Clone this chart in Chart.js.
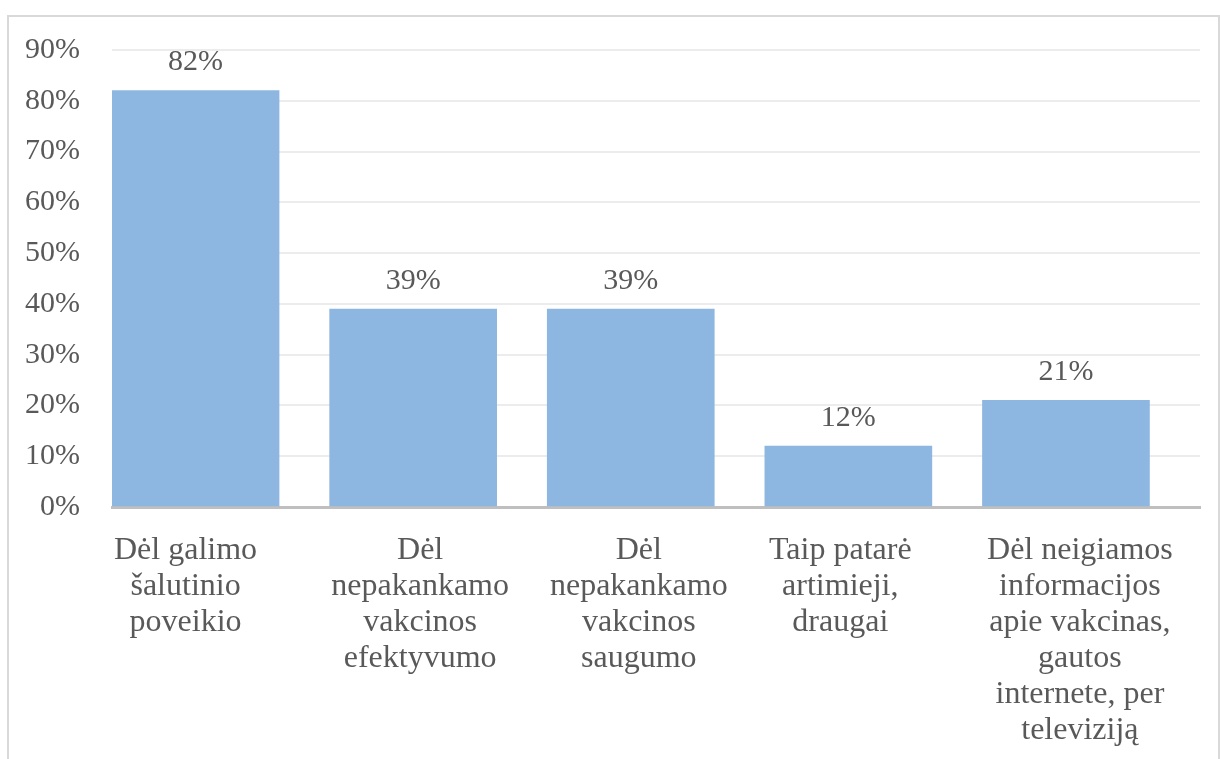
<!DOCTYPE html>
<html>
<head>
<meta charset="utf-8">
<script src="https://cdn.jsdelivr.net/npm/chart.js@4/dist/chart.umd.min.js"></script>
<style>
  html, body { margin: 0; padding: 0; background: #fff; }
  #frame {
    position: absolute; left: 7px; top: 15px; width: 1209px; height: 760px;
    border: 2px solid #d9d9d9; border-bottom: none;
  }
  #wrap { position: absolute; left: 0; top: 0; width: 1220px; height: 759px; }
</style>
</head>
<body>
<div id="frame"></div>
<div id="wrap"><canvas id="chart" width="1220" height="759"></canvas></div>
<script>
// reasons, one array of lines per bar
var reasons = [
    ["Dėl galimo", "šalutinio", "poveikio"],
    ["Dėl", "nepakankamo", "vakcinos", "efektyvumo"],
    ["Dėl", "nepakankamo", "vakcinos", "saugumo"],
    ["Taip patarė", "artimieji,", "draugai"],
    ["Dėl neigiamos", "informacijos", "apie vakcinas,", "gautos", "internete, per", "televiziją"]
];
var shares = [82, 39, 39, 12, 21];
var yTicks = [0, 10, 20, 30, 40, 50, 60, 70, 80, 90];

var textColor = "#595959";
var serif = "'Liberation Serif', 'Times New Roman', serif";

// bars sit at the left of each slot, gap on the right -> shift the x range
var slotShift = 0.384;
// small nudges (in slot units) so the wrapped labels land where they should
var labelNudge = [-0.046, 0.032, 0.037, -0.037, 0.064];
var points = shares.map((v, i) => ({ x: i, y: v }));

// prints the % value over each bar
var valueLabels = {
    id: "valueLabels",
    afterDatasetsDraw: function(chart) {
        let ctx = chart.ctx;
        let meta = chart.getDatasetMeta(0);
        ctx.save();
        ctx.font = "30px " + serif;
        ctx.fillStyle = textColor;
        ctx.textAlign = "center";
        ctx.textBaseline = "middle";
        meta.data.forEach((bar, i) => {
            ctx.fillText(shares[i] + "%", bar.x, bar.y - 28);
        });
        ctx.restore();
    }
};

let config = {
    type: "bar",
    data: {
        datasets: [{
            data: points,
            backgroundColor: "#8db7e1",
            borderWidth: 0,
            barThickness: 167
        }]
    },
    options: {
        responsive: false,
        animation: false,
        layout: { padding: { top: 43, right: 20, left: 0, bottom: 0 } },
        plugins: {
            legend: { display: false },
            tooltip: { enabled: false }
        },
        scales: {
            x: {
                type: "linear",
                offset: false,
                min: -slotShift,
                max: reasons.length - slotShift,
                afterBuildTicks: function(scale) {
                    scale.ticks = reasons.map((r, i) => ({ value: i + labelNudge[i] }));
                },
                grid: { display: false, offset: false },
                border: { color: "#bfbfbf", width: 3 },
                ticks: {
                    color: textColor,
                    font: { family: serif, size: 32, lineHeight: 1.125 },
                    maxRotation: 0,
                    autoSkip: false,
                    padding: 18,
                    callback: function(value, index) { return reasons[index]; }
                },
                afterFit: function(scale) { scale.height = 252; }
            },
            y: {
                min: 0,
                max: 90,
                afterBuildTicks: function(scale) {
                    scale.ticks = yTicks.map(v => ({ value: v }));
                },
                grid: { color: "#ececec", lineWidth: 2, drawTicks: false },
                border: { display: false },
                ticks: {
                    color: textColor,
                    font: { family: serif, size: 30 },
                    padding: 32,
                    callback: function(value) { return value + "%"; }
                },
                afterFit: function(scale) { scale.width = 112; }
            }
        }
    },
    plugins: [valueLabels]
};

const chart = new Chart(document.getElementById("chart"), config);
</script>
</body>
</html>
